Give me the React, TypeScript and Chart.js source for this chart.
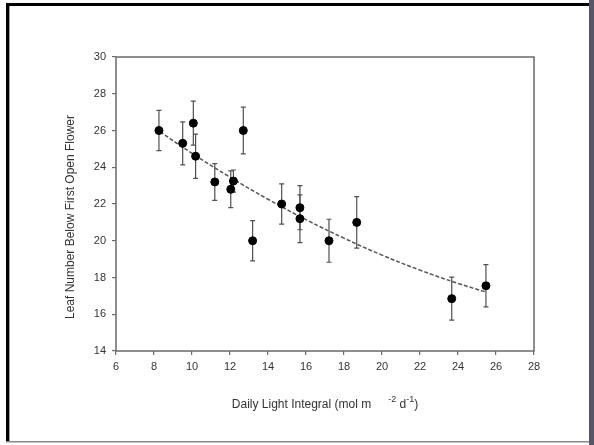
import React, { useEffect, useRef } from "react";
import { Chart, registerables } from "chart.js";

Chart.register(...registerables);

// Measured data (Daily Light Integral vs leaf number below first open flower)
const dli = [8.26, 9.51, 10.07, 10.19, 11.2, 12.04, 12.18, 12.7, 13.19, 14.72, 15.68, 15.68, 17.21, 18.67, 23.67, 25.47];
const leafNumber = [26.0, 25.3, 26.4, 24.6, 23.2, 22.8, 23.25, 26.0, 20.0, 22.0, 21.8, 21.2, 20.0, 21.0, 16.85, 17.55];
const leafError = [1.1, 1.17, 1.2, 1.2, 1.0, 1.0, 0.6, 1.27, 1.1, 1.1, 1.2, 1.3, 1.17, 1.4, 1.17, 1.15];

// Fitted curve
const fitDli = [8.3, 10, 12, 14, 16, 18, 20, 22, 24, 25.5];
const fitLeaf = [25.94, 24.76, 23.46, 22.26, 21.15, 20.14, 19.22, 18.4, 17.68, 17.2];

// Axes
const xMin = 6;
const xMax = 28;
const xStep = 2;
const yMin = 14;
const yMax = 30;
const yStep = 2;

const yTitle = "Leaf Number Below First Open Flower";
const xTitleMain = "Daily Light Integral (mol m";
const xTitleSup1 = "-2";
const xTitleMid = " d";
const xTitleSup2 = "-1";
const xTitleEnd = ")";

const FONT = "'Liberation Sans', Arial, sans-serif";

const framePlugin = {
  id: "frame",
  beforeDraw(chart: any) {
    const ctx = chart.ctx;
    ctx.save();
    ctx.fillStyle = "#ffffff";
    ctx.fillRect(0, 0, chart.width, chart.height);
    ctx.restore();
  },
  afterDraw(chart: any) {
    const ctx = chart.ctx;
    ctx.save();
    // outer frame
    ctx.fillStyle = "#000000";
    ctx.fillRect(6, 3, 3, 439); // left
    ctx.fillRect(6, 3, 583, 3); // top
    ctx.fillStyle = "#a0a0a0";
    ctx.fillRect(9, 6, 1, 436);
    ctx.fillStyle = "#8a8a8a";
    ctx.fillRect(6, 441, 583, 1.5); // bottom
    ctx.fillStyle = "#565667";
    ctx.fillRect(589, 0, 5, 445); // right bar
    ctx.restore();
  },
};

const boxPlugin = {
  id: "plotBox",
  beforeDatasetsDraw(chart: any) {
    const { ctx, chartArea } = chart;
    ctx.save();
    ctx.strokeStyle = "#6a6a6a";
    ctx.lineWidth = 1.5;
    ctx.strokeRect(chartArea.left, chartArea.top, chartArea.right - chartArea.left, chartArea.bottom - chartArea.top);
    ctx.restore();
  },
};

const errorBarPlugin = {
  id: "errorBars",
  beforeDatasetsDraw(chart: any) {
    const { ctx, scales } = chart;
    const xs = scales.x;
    const ys = scales.y;
    ctx.save();
    ctx.strokeStyle = "#505050";
    ctx.lineWidth = 1.2;
    const cap = 2.5;
    for (let i = 0; i < dli.length; i++) {
      const px = xs.getPixelForValue(dli[i]);
      const top = ys.getPixelForValue(leafNumber[i] + leafError[i]);
      const bot = ys.getPixelForValue(leafNumber[i] - leafError[i]);
      ctx.beginPath();
      ctx.moveTo(px, top);
      ctx.lineTo(px, bot);
      ctx.moveTo(px - cap, top);
      ctx.lineTo(px + cap, top);
      ctx.moveTo(px - cap, bot);
      ctx.lineTo(px + cap, bot);
      ctx.stroke();
    }
    ctx.restore();
  },
};

const titlesPlugin = {
  id: "axisTitles",
  afterDraw(chart: any) {
    const { ctx, chartArea } = chart;
    ctx.save();
    ctx.fillStyle = "#333333";
    // X title
    const mainFont = `12px ${FONT}`;
    const supFont = `9px ${FONT}`;
    ctx.font = mainFont;
    const wMain = ctx.measureText(xTitleMain).width;
    const wMid = ctx.measureText(xTitleMid).width;
    const wEnd = ctx.measureText(xTitleEnd).width;
    ctx.font = supFont;
    const wSup1 = ctx.measureText(xTitleSup1).width;
    const wSup2 = ctx.measureText(xTitleSup2).width;
    const gap = 17;
    const total = wMain + gap + wSup1 + wMid + wSup2 + wEnd;
    let x = (chartArea.left + chartArea.right) / 2 - total / 2;
    const baseY = chartArea.bottom + 57;
    ctx.textBaseline = "alphabetic";
    ctx.textAlign = "left";
    ctx.font = mainFont;
    ctx.fillText(xTitleMain, x, baseY);
    x += wMain + gap;
    ctx.font = supFont;
    ctx.fillText(xTitleSup1, x, baseY - 6);
    x += wSup1;
    ctx.font = mainFont;
    ctx.fillText(xTitleMid, x, baseY);
    x += wMid;
    ctx.font = supFont;
    ctx.fillText(xTitleSup2, x, baseY - 6);
    x += wSup2;
    ctx.font = mainFont;
    ctx.fillText(xTitleEnd, x, baseY);

    // Y title
    ctx.font = mainFont;
    ctx.translate(71, (chartArea.top + chartArea.bottom) / 2 + 13);
    ctx.rotate(-Math.PI / 2);
    ctx.textAlign = "center";
    ctx.textBaseline = "middle";
    ctx.fillText(yTitle, 0, 0);
    ctx.restore();
  },
};

export default function App() {
  const canvasRef = useRef<HTMLCanvasElement | null>(null);

  useEffect(() => {
    document.body.style.margin = "0";
    const canvas = canvasRef.current;
    if (!canvas) return;
    const points = dli.map((x, i) => ({ x, y: leafNumber[i] }));
    const fit = fitDli.map((x, i) => ({ x, y: fitLeaf[i] }));
    const tickFont = { family: FONT, size: 11 };
    const chart = new Chart(canvas, {
      type: "scatter",
      data: {
        datasets: [
          {
            type: "line",
            label: "fit",
            data: fit,
            borderColor: "#555555",
            borderWidth: 1.5,
            borderDash: [4, 2],
            pointRadius: 0,
            fill: false,
            tension: 0.4,
            order: 2,
          } as any,
          {
            label: "data",
            data: points,
            backgroundColor: "#000000",
            borderColor: "#000000",
            pointRadius: 4,
            pointHoverRadius: 4,
            order: 1,
          },
        ],
      },
      options: {
        responsive: false,
        animation: false,
        devicePixelRatio: 1,
        layout: { padding: { left: 76, right: 60, top: 57, bottom: 64 } },
        plugins: {
          legend: { display: false },
          tooltip: { enabled: false },
        },
        scales: {
          x: {
            type: "linear",
            min: xMin,
            max: xMax,
            ticks: { stepSize: xStep, font: tickFont, color: "#333333", padding: 5 },
            grid: { display: true, drawOnChartArea: false, drawTicks: true, tickLength: 4, color: "#6a6a6a", lineWidth: 1.2 },
            border: { display: false },
            afterFit: (s: any) => {
              s.height = 30;
            },
          },
          y: {
            type: "linear",
            min: yMin,
            max: yMax,
            ticks: { stepSize: yStep, font: tickFont, color: "#333333", padding: 6 },
            grid: { display: true, drawOnChartArea: false, drawTicks: true, tickLength: 4, color: "#6a6a6a", lineWidth: 1.2 },
            border: { display: false },
            afterFit: (s: any) => {
              s.width = 40;
            },
          },
        },
      },
      plugins: [framePlugin, boxPlugin, errorBarPlugin, titlesPlugin],
    });
    return () => chart.destroy();
  }, []);

  return (
    <div style={{ position: "absolute", left: 0, top: 0, width: 594, height: 445 }}>
      <canvas ref={canvasRef} width={594} height={445} style={{ display: "block", width: 594, height: 445 }} />
    </div>
  );
}
